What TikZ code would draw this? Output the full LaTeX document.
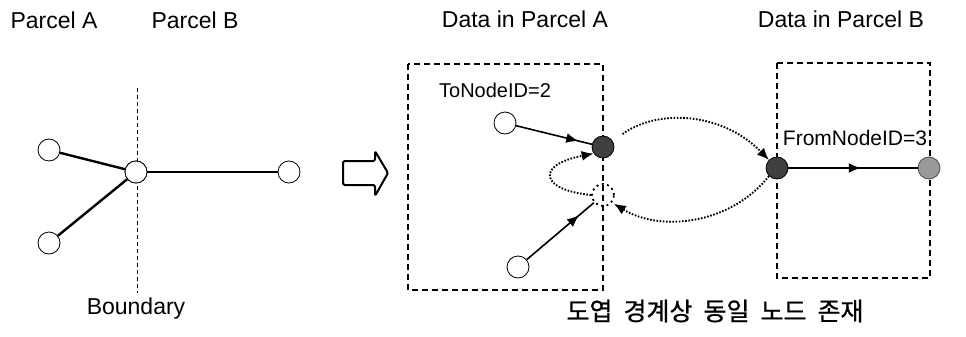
\documentclass[tikz,border=0pt]{standalone}
\usepackage{fontspec}
\setmainfont{Liberation Sans}
\newfontfamily\krfont[FakeBold=0.8]{Noto Sans CJK KR}
\usetikzlibrary{arrows.meta,decorations.markings}
\tikzset{
  every node/.style={inner sep=0pt},
  lbl/.style={font=\fontsize{23}{26}\selectfont},
  idlbl/.style={font=\fontsize{20}{24}\selectfont},
  vertex/.style={circle,draw=black,line width=0.8pt,fill=white,minimum size=22pt},
  darkvertex/.style={circle,draw=black,line width=0.8pt,fill=black!75,minimum size=22pt},
  grayvertex/.style={circle,draw=black!70,line width=0.8pt,fill=black!40,minimum size=22pt},
  ghostvertex/.style={circle,draw=black,line width=1.8pt,dash pattern=on 2pt off 3.5pt,minimum size=22pt},
  edge/.style={line width=2.4pt},
  flow/.style={line width=1.6pt,postaction={decorate},
    decoration={markings,mark=at position #1 with {\arrow{Latex[length=12pt,width=10pt]}}}},
  link/.style={line width=1.9pt,dash pattern=on 1.6pt off 1.6pt,-{Latex[length=12pt,width=10pt]}},
  region/.style={line width=1.3pt,dash pattern=on 6pt off 4pt},
}
\begin{document}
\begin{tikzpicture}[x=1pt,y=1pt]
\useasboundingbox (0,0) rectangle (966,-337);

% ---- left: network crossing the parcel boundary ----
\node[lbl] (pa) at (54,-20) {Parcel A};
\node[lbl] (pb) at (195,-20) {Parcel B};
\coordinate (btop) at (137,-88);
\coordinate (bbot) at (137,-293);
\draw[line width=1pt,dash pattern=on 4pt off 3pt] (btop) -- (bbot);
\node[lbl] (bd) at (136,-309) {Boundary};

\node[vertex] (l1) at (49,-150) {};
\node[vertex] (l2) at (49,-243) {};
\node[vertex] (lc) at (136,-172) {};
\node[vertex] (lr) at (289,-172) {};
\draw[edge] (l1) -- (lc);
\draw[edge] (l2) -- (lc);
\draw[edge] (lc) -- (lr);
\node[vertex] at (lc) {};

% ---- block arrow ----
\draw[line width=2pt,line join=round,rounded corners=1.5pt]
  (343,-161) -- (375,-161) -- (375,-151) -- (388,-173) -- (375,-196)
  -- (375,-185) -- (343,-185) -- cycle;

% ---- right: data stored per parcel ----
\node[lbl] (ta) at (525,-19) {Data in Parcel A};
\node[lbl] (tb) at (841,-19) {Data in Parcel B};

\draw[region] (408,-64) rectangle (603,-290);
\draw[region] (777,-63) rectangle (930,-278);

\node[idlbl] (tn) at (495,-90) {ToNodeID=2};
\node[idlbl,font=\fontsize{21}{24}\selectfont] (fn) at (855,-138) {FromNodeID=3};

\node[vertex] (a1) at (505,-123) {};
\node[vertex] (a2) at (518,-267) {};
\node[darkvertex] (ad) at (603,-147) {};
\node[ghostvertex] (ag) at (603,-195) {};
\node[darkvertex] (bd2) at (777,-168) {};
\node[grayvertex] (bg) at (929,-168) {};

\draw[flow=0.82] (a1) -- (ad);
\draw[flow=0.78] (a2) -- (ag);
\draw[flow=0.56] (bd2) -- (bg);

\draw[link] (ag.west) .. controls (540,-190) and (535,-165) .. (ad.215);
\draw[link,shorten <=12pt] (ad.30) .. controls (655,-110) and (720,-110) .. (bd2.135);
\draw[link,shorten >=2pt] (bd2.225) .. controls (730,-225) and (660,-232) .. (ag.-40);

\node[font=\krfont\fontsize{25}{28}\selectfont] (kt) at (715,-311)
  {도엽\hspace{11pt}경계상\hspace{11pt}동일\hspace{11pt}노드\hspace{11pt}존재};
\end{tikzpicture}
\end{document}
